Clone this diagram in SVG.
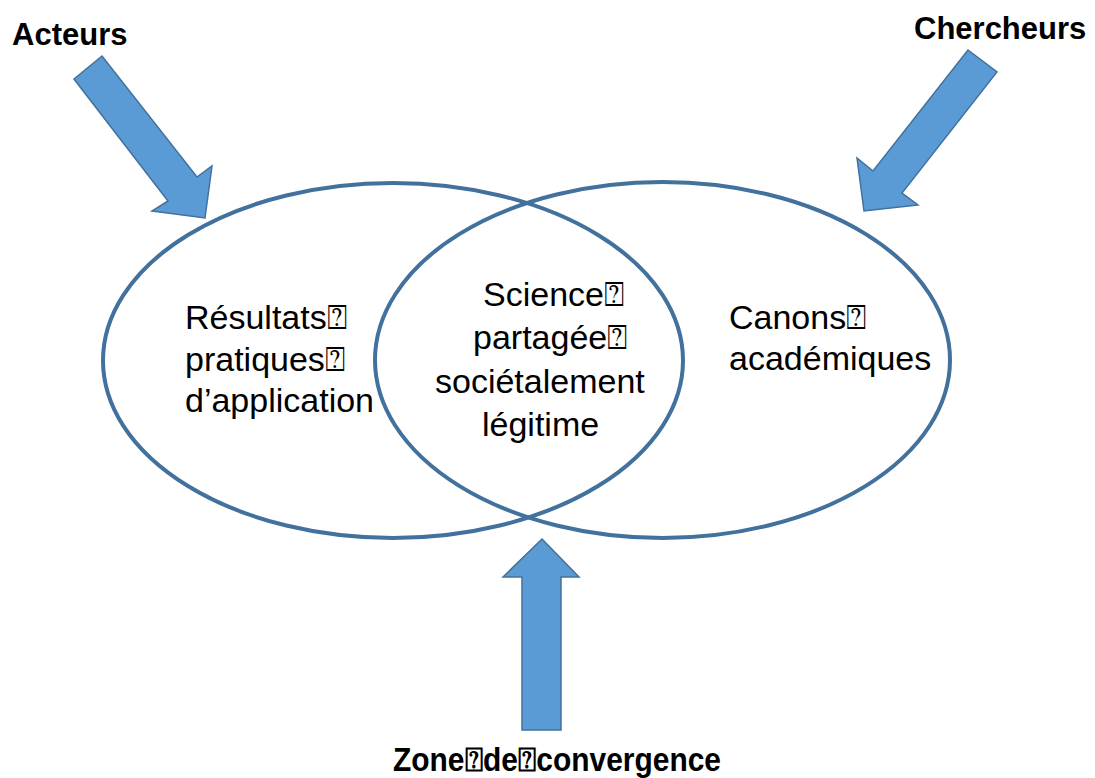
<svg xmlns="http://www.w3.org/2000/svg" width="1095" height="778" viewBox="0 0 1095 778">
<style>
.ell{fill:none;stroke:#41719C;stroke-width:4}
.arr{fill:#5B9BD5;stroke:#41719C;stroke-width:1.5;stroke-linejoin:miter}
.t{font-family:"Liberation Sans","DejaVu Sans",sans-serif;font-size:34px;fill:#000}
.b{font-family:"Liberation Sans","DejaVu Sans",sans-serif;font-size:31px;font-weight:bold;fill:#000}
</style>
<rect width="1095" height="778" fill="#fff"/>
<g id="ellipse-left"><ellipse class="ell" cx="393" cy="360.5" rx="290" ry="177.5"/></g>
<g id="ellipse-right"><ellipse class="ell" cx="662.5" cy="360" rx="287.5" ry="178"/></g>
<g id="connectors">
<polygon class="arr" points="74,79 102,56 197,177 212,166 205,218 152,211 168,201"/>
<polygon class="arr" points="968,50 997,72 902,193 918,205 864,211 857,158 873,171"/>
<polygon class="arr" points="542,539 579,577 561,577 561,730 522,730 522,577 503,577"/>
</g>
<g id="label-acteurs"><text class="b" x="12" y="45">Acteurs</text></g>
<g id="label-chercheurs"><text class="b" x="914" y="39">Chercheurs</text></g>
<g id="label-zone"><text class="b" x="393" y="771" style="font-size:32.5px" textLength="328" lengthAdjust="spacingAndGlyphs">Zone⍰de⍰convergence</text></g>
<g id="text-left"><text class="t"><tspan x="185" y="329">Résultats⍰</tspan><tspan x="185" y="371">pratiques⍰</tspan><tspan x="185" y="412">d’application</tspan></text></g>
<g id="text-center"><text class="t"><tspan x="483" y="306">Science⍰</tspan><tspan x="473" y="349">partagée⍰</tspan><tspan x="435" y="393">sociétalement</tspan><tspan x="482" y="436">légitime</tspan></text></g>
<g id="text-right"><text class="t"><tspan x="729" y="329">Canons⍰</tspan><tspan x="729" y="370">académiques</tspan></text></g>
</svg>
